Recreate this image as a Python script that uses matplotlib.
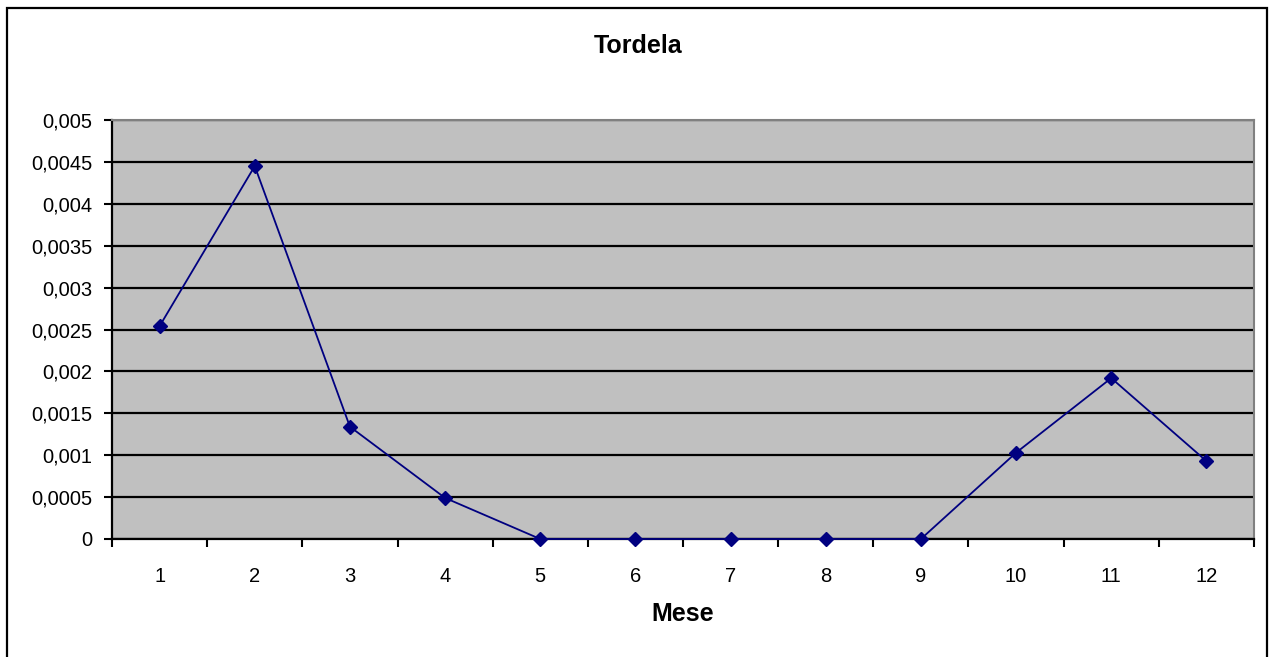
import matplotlib.pyplot as plt
from matplotlib.patches import Rectangle
from matplotlib.ticker import FixedLocator, FuncFormatter, MultipleLocator

plt.rcParams['font.family'] = ['Liberation Sans', 'DejaVu Sans']

# dati
mesi = [1, 2, 3, 4, 5, 6, 7, 8, 9, 10, 11, 12]
valori = [0.00254, 0.00445, 0.00134, 0.00049, 0, 0, 0, 0, 0, 0.00103, 0.00192, 0.00093]
titolo = 'Tordela'
etichetta_x = 'Mese'

fig = plt.figure(figsize=(12.71, 6.57), dpi=100)
ax = fig.add_axes([112/1271, 118/657, 1142/1271, 419/657])

ax.set_facecolor('#c0c0c0')
ax.plot(mesi, valori, color='#000080', lw=1.3, marker='D', markersize=7.5,
        markerfacecolor='#000080', markeredgecolor='#000080', zorder=5, clip_on=False)

ax.set_xlim(0.5, 12.5)
ax.set_ylim(0, 0.005)
ax.yaxis.set_major_locator(MultipleLocator(0.0005))
ax.yaxis.set_major_formatter(FuncFormatter(lambda v, p: ('%g' % round(v, 4)).replace('.', ',')))
ax.grid(axis='y', color='black', lw=1.6, zorder=1)
ax.set_axisbelow(True)

# tick tra le categorie, etichette al centro
ax.xaxis.set_major_locator(FixedLocator([m + 0.5 for m in [0] + mesi]))
ax.xaxis.set_major_formatter(FuncFormatter(lambda v, p: ''))
ax.xaxis.set_minor_locator(FixedLocator(mesi))
ax.xaxis.set_minor_formatter(FuncFormatter(lambda v, p: '%d' % v))
ax.tick_params(axis='x', which='minor', length=0, pad=20, labelsize=14.5)
ax.tick_params(axis='x', which='major', length=6, width=1.5, direction='out')
ax.tick_params(axis='y', length=6, width=1.5, pad=8, labelsize=14.5)

for s in ['left', 'bottom']:
    ax.spines[s].set_color('black')
    ax.spines[s].set_linewidth(1.6)
for s in ['top', 'right']:
    ax.spines[s].set_color('#808080')
    ax.spines[s].set_linewidth(1.5)

fig.text(638/1271, 1 - 46/657, titolo, ha='center', va='center', fontsize=18, fontweight='bold')
fig.text(683/1271, 1 - 614/657, etichetta_x, ha='center', va='center', fontsize=18, fontweight='bold')

# cornice esterna
fig.patches.append(Rectangle((7/1271, -0.05), 1260/1271, 1.05 - 8/657, transform=fig.transFigure,
                             fill=False, edgecolor='black', lw=1.6, clip_on=False))

fig.savefig('out.png', dpi=100)
